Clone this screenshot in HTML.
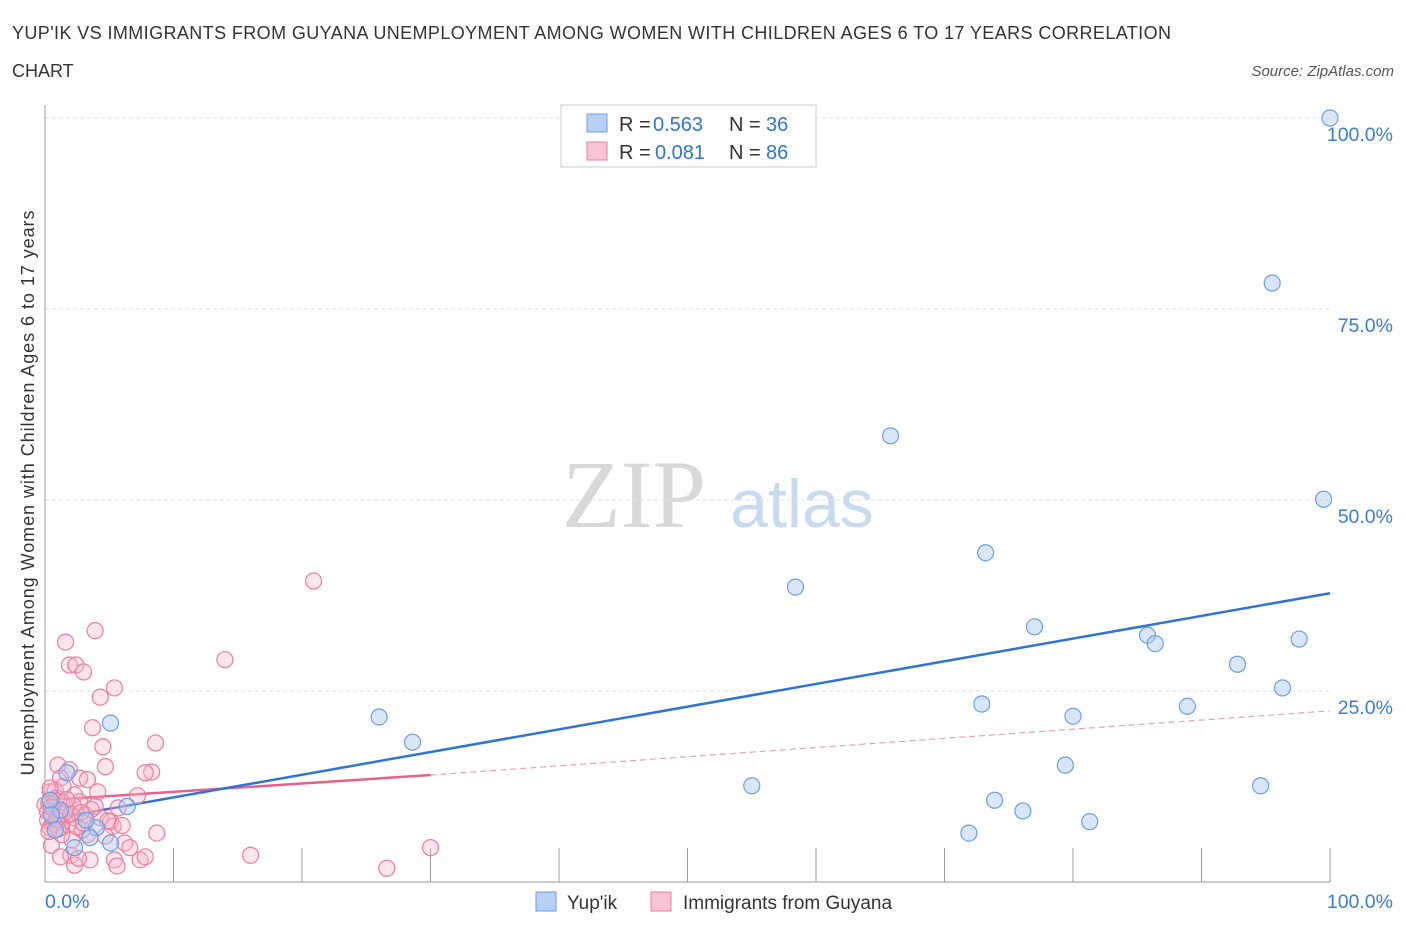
<!DOCTYPE html>
<html><head><meta charset="utf-8"><style>
body{margin:0;background:#fff;}
</style></head><body>
<svg id="chart" width="1406" height="930" style="font-family:'Liberation Sans',sans-serif">
<text x="12" y="39" font-size="18" fill="#333" textLength="1159">YUP'IK VS IMMIGRANTS FROM GUYANA UNEMPLOYMENT AMONG WOMEN WITH CHILDREN AGES 6 TO 17 YEARS CORRELATION</text>
<text x="12" y="77" font-size="18" fill="#333">CHART</text>
<text x="1394" y="76" font-size="15" fill="#555" font-style="italic" text-anchor="end">Source: ZipAtlas.com</text>
<text x="634" y="527" font-size="96" fill="#d8d8d8" style="font-family:'Liberation Serif',serif" text-anchor="middle">ZIP</text>
<text x="802" y="527" font-size="68" fill="#c8daf0" text-anchor="middle">atlas</text>
<text transform="translate(34,493) rotate(-90)" font-size="18" fill="#333" text-anchor="middle" textLength="565">Unemployment Among Women with Children Ages 6 to 17 years</text>
<g id="grid"></g><g id="lines"></g><g id="pts"></g>
<g>
<rect x="561" y="105" width="255" height="62" fill="#fff" stroke="#ccc"/>
<rect x="587" y="114" width="20" height="18" fill="#b8d0f4" stroke="#6a9fe0"/>
<rect x="587" y="142" width="20" height="18" fill="#f8c4d4" stroke="#e87ea0"/>
<text x="619" y="131" font-size="20" fill="#333">R =</text>
<text x="653" y="131" font-size="20" fill="#2f74d0">0.563</text>
<text x="729" y="131" font-size="20" fill="#333">N =</text>
<text x="766" y="131" font-size="20" fill="#2f74d0">36</text>
<text x="619" y="159" font-size="20" fill="#333">R =</text>
<text x="655" y="159" font-size="20" fill="#2f74d0">0.081</text>
<text x="729" y="159" font-size="20" fill="#333">N =</text>
<text x="766" y="159" font-size="20" fill="#2f74d0">86</text>
</g>
<g>
<rect x="536" y="892" width="20" height="19" fill="#b8d0f4" stroke="#6a9fe0"/>
<text x="567" y="909" font-size="19" fill="#333">Yup'ik</text>
<rect x="651" y="892" width="20" height="19" fill="#f8c4d4" stroke="#e87ea0"/>
<text x="683" y="909" font-size="19" fill="#333">Immigrants from Guyana</text>
</g>
</svg>
<script>
const yupikX=[100,95.5,65.8,99.5,73.2,58.4,77.0,85.8,86.4,97.6,92.8,96.3,72.9,88.9,80.0,26.0,28.6,5.1,79.4,55.0,94.6,73.9,76.1,81.3,71.9,6.4,1.7,4.0,3.2,5.1,2.3,0.8,1.2,0.4,3.5,0.5];
const yupikY=[100,78.4,58.4,50.1,43.1,38.6,33.4,32.3,31.2,31.8,28.5,25.4,23.3,23.0,21.7,21.6,18.3,20.8,15.3,12.6,12.6,10.7,9.3,7.9,6.4,9.9,14.3,7.1,8.1,5.1,4.5,6.8,9.4,10.7,5.8,8.8];
const guyX=[20.9,3.9,1.6,14.0,1.9,2.4,3.0,5.4,4.3,3.7,4.5,8.6,4.7,8.3,7.8,1.0,1.9,2.7,3.3,1.2,7.2,4.1,2.3,0.4,0.8,0,1.3,2.7,3.9,5.7,0.5,0.2,1.0,1.8,2.3,3.1,4.3,5.1,5.3,1.2,0.4,3.3,2.1,0.5,8.7,6.2,6.6,2.0,1.2,3.5,2.3,5.4,7.4,7.8,5.6,16.0,26.6,30.0,2.6,1.6,0.8,0.6,0.2,1.3,2.9,4.7,0.3,1.5,2.5,0.9,3.6,1.1,0.7,2.2,4.9,1.4,0.5,2.0,3.0,0.3,1.7,6.0,0.9,2.8,1.0,0.4];
const guyY=[39.4,32.9,31.4,29.1,28.4,28.4,27.5,25.4,24.2,20.2,17.7,18.2,15.1,14.4,14.3,15.3,14.7,13.6,13.4,13.6,11.3,11.8,11.4,11.8,10.7,10.1,10.5,10.5,9.9,9.7,8.8,8.1,7.9,7.5,8.4,8.8,8.4,7.9,7.3,7.1,7.1,6.2,5.5,4.8,6.4,5.1,4.5,3.5,3.3,2.9,2.2,2.9,2.9,3.3,2.1,3.5,1.8,4.5,3.1,9.2,12.0,9.7,9.2,6.2,6.8,6.0,10.3,9.0,7.2,11.0,9.5,8.5,7.6,10.0,8.0,12.5,9.8,8.9,7.7,6.6,10.8,7.4,8.2,9.1,6.9,12.3];
const blueLine=[8.1,37.8];
const pinkLine=[10.7,14.0,22.4];
const yTicks=[25,50,75,100];
const xr=v=>45+v*12.85, yr=v=>882-v*7.64;
const NS='http://www.w3.org/2000/svg';
function mk(tag,attrs,parent){const e=document.createElementNS(NS,tag);for(const k in attrs)e.setAttribute(k,attrs[k]);parent.appendChild(e);return e;}
const g=document.getElementById('grid');
yTicks.forEach(t=>{
 const l=mk('line',{x1:45,x2:1330,y1:yr(t),y2:yr(t),stroke:'#e2e2e2','stroke-dasharray':'4,3'},g);
 
 
 const tx=mk('text',{x:1393,y:yr(t)+23,'font-size':19.5,fill:'#3a7bd5','text-anchor':'end'},g);
 tx.textContent=t.toFixed(1)+'%';
 
 
});
const ax=mk('line',{x1:45,x2:45,y1:105,y2:882,stroke:'#999'},g);


const bx=mk('line',{x1:45,x2:1330,y1:882,y2:882,stroke:'#999'},g);


for(let i=1;i<=10;i++){
 const t=mk('line',{x1:xr(i*10),x2:xr(i*10),y1:848,y2:882,stroke:'#999'},g);
 
 
}
[[0,'start',45],[100,'end',1393]].forEach(([v,a,x])=>{
 const tx=mk('text',{x:x,y:908,'font-size':19.5,fill:'#3a7bd5','text-anchor':a},g);
 tx.textContent=v.toFixed(1)+'%';
 
 
});
const p=document.getElementById('pts');
guyX.forEach((x,i)=>{
 const c=mk('circle',{cx:xr(x),cy:yr(guyY[i]),r:8,fill:'rgba(248,180,200,0.35)',stroke:'#e87ea0','stroke-width':1.2},p);
 
 
});
yupikX.forEach((x,i)=>{
 const c=mk('circle',{cx:xr(x),cy:yr(yupikY[i]),r:8,fill:'rgba(170,200,240,0.45)',stroke:'#6a9fe0','stroke-width':1.2},p);
 
 
});
const L=document.getElementById('lines');
const pl=mk('line',{x1:xr(0),y1:yr(pinkLine[0]),x2:xr(30),y2:yr(pinkLine[1]),stroke:'#e8608a','stroke-width':2.5},L);


const pd=mk('line',{x1:xr(30),y1:yr(pinkLine[1]),x2:xr(100),y2:yr(pinkLine[2]),stroke:'#e8a0b8','stroke-width':1.2,'stroke-dasharray':'6,4'},L);


const bl=mk('line',{x1:xr(0),y1:yr(blueLine[0]),x2:xr(100),y2:yr(blueLine[1]),stroke:'#2f74d0','stroke-width':2.5},L);


</script>
</body></html>
